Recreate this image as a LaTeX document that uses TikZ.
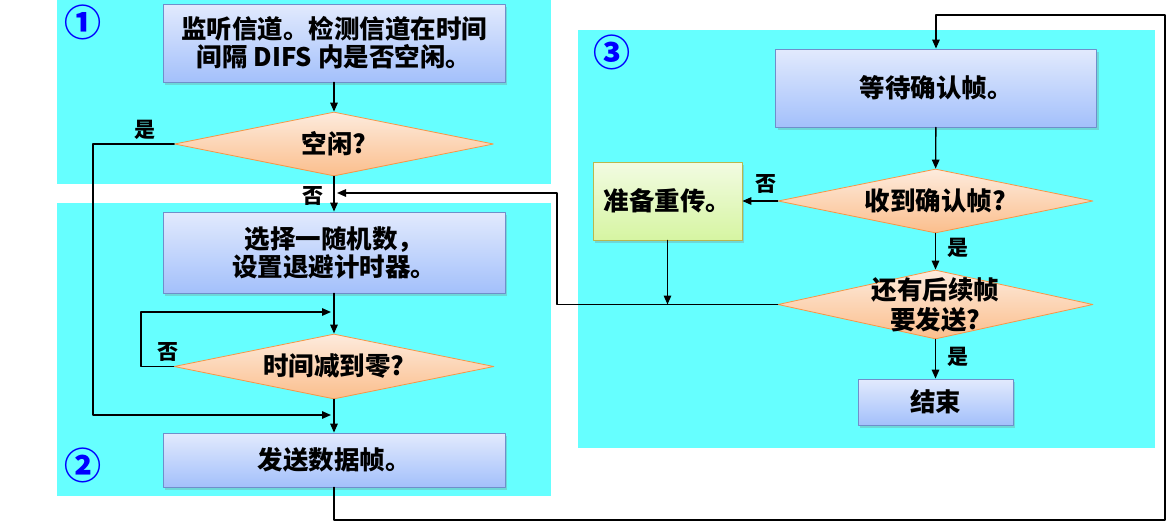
\documentclass[tikz,border=0pt]{standalone}
\usepackage{fontspec}
\setmainfont{Noto Sans CJK SC}
\usepackage{xcolor}
\usepackage{tikz}
\usetikzlibrary{arrows.meta,shapes.geometric,shadows}
\definecolor{csPanel}{HTML}{66FFFF}
\definecolor{csBoxTop}{HTML}{E2EAFD}
\definecolor{csBoxBot}{HTML}{A3C0FB}
\definecolor{csBoxLine}{HTML}{6F8FCB}
\definecolor{csDecTop}{HTML}{FDEBDD}
\definecolor{csDecBot}{HTML}{FBBE8C}
\definecolor{csDecLine}{HTML}{F79646}
\definecolor{csGreenTop}{HTML}{F2FBE2}
\definecolor{csGreenBot}{HTML}{D6F5A2}
\definecolor{csGreenLine}{HTML}{B8B84E}
\definecolor{csNum}{HTML}{0000FF}
\tikzset{
  cs diagram/.style={x=1pt, y=-1pt, line cap=round, line join=round},
  cs panel/.style={fill=csPanel},
  cs box/.style={draw=csBoxLine, line width=0.8pt, top color=csBoxTop,
    bottom color=csBoxBot, align=center, inner sep=2pt,
    font=\fontsize{25.5}{28}\selectfont\bfseries,
    drop shadow={opacity=0.3, shadow xshift=2pt, shadow yshift=-2.5pt}},
  cs green box/.style={cs box, draw=csGreenLine, top color=csGreenTop,
    bottom color=csGreenBot},
  cs dec/.style={diamond, draw=csDecLine, line width=0.8pt, top color=csDecTop,
    bottom color=csDecBot, inner sep=0pt},
  cs dec text/.style={align=center, inner sep=0pt,
    font=\fontsize{25.5}{30}\selectfont\bfseries},
  cs arrow/.style={-{Triangle[length=9pt,width=7.5pt]}, line width=1.4pt},
  cs label/.style={font=\fontsize{21}{22}\selectfont\bfseries, inner sep=0pt},
  cs num/.style={font=\fontsize{37}{37}\selectfont\bfseries, text=csNum, inner sep=0pt}
}
\begin{document}
\begin{tikzpicture}[cs diagram]
\useasboundingbox (0,0) rectangle (1174,523);
% background panels
\fill[cs panel] (57,0) rectangle (551,184);
\fill[cs panel] (57,203) rectangle (551,496);
\fill[cs panel] (578,30) rectangle (1155,448);
\node[cs num] (n1) at (83,22) {①};
\node[cs num] (n2) at (83,465) {②};
\node[cs num] (n3) at (612,52) {③};

% left column
\node[cs box, minimum width=342pt, minimum height=78pt] (listen) at (334,43)
  {监听信道。检测信道在时间\\间隔 DIFS 内是否空闲。};
\node[cs dec, minimum width=319pt, minimum height=64pt,
  label={[cs dec text]center:空闲?}] (idle) at (334,144) {};
\node[cs box, minimum width=342pt, minimum height=81pt] (pick) at (334,252.5)
  {选择一随机数，\\设置退避计时器。};
\node[cs dec, minimum width=320pt, minimum height=65pt,
  label={[cs dec text]center:时间减到零?}] (zero) at (334,366.5) {};
\node[cs box, minimum width=342pt, minimum height=54pt] (send) at (334,460)
  {发送数据帧。};
\coordinate (in0) at (334,193);
\coordinate (in1) at (334,312);
\coordinate (in2) at (334,415);

% right column
\node[cs box, minimum width=321pt, minimum height=78pt] (wait) at (936,88)
  {等待确认帧。};
\node[cs dec, minimum width=315pt, minimum height=64pt,
  label={[cs dec text]center:收到确认帧?}] (recv) at (935.5,201) {};
\node[cs green box, minimum width=149pt, minimum height=78pt] (retx) at (667.5,201)
  {准备重传。};
\node[cs dec, minimum width=315pt, minimum height=69pt,
  label={[cs dec text]center:{还有后续帧\\要发送?}}] (more) at (935.5,304.5) {};
\node[cs box, minimum width=155pt, minimum height=46pt] (done) at (935.5,402)
  {结束};

% yes / no labels
\node[cs label] (yes1) at (145,130) {是};
\node[cs label] (no1) at (313,196) {否};
\node[cs label] (no2) at (168,352) {否};
\node[cs label] (no3) at (766,184) {否};
\node[cs label] (yes2) at (958,248) {是};
\node[cs label] (yes3) at (958,357) {是};

% connectors
\draw[cs arrow] (listen) -- (idle);
\draw[cs arrow] (idle) -- (pick);
\draw[cs arrow] (pick) -- (zero);
\draw[cs arrow] (zero) -- (send);
\draw[cs arrow, shorten >=3pt] (idle.west) -- (93,144) -- (93,415) -- (in2);
\draw[cs arrow, shorten >=3pt] (zero.west) -- (141,366.5) -- (141,312) -- (in1);
\draw[cs arrow, shorten >=3pt] (more.west) -- (557,304.5) -- (557,193) -- (in0);
\draw[cs arrow] (send.south) -- (334,520) -- (1165,520) -- (1165,15)
  -- (936,15) -- (wait.north);
\draw[cs arrow] (wait) -- (recv);
\draw[cs arrow] (recv.west) -- (retx.east);
\draw[cs arrow] (retx.south) -- (667.5,304.5);
\draw[cs arrow] (recv) -- (more);
\draw[cs arrow] (more) -- (done);
\end{tikzpicture}
\end{document}
